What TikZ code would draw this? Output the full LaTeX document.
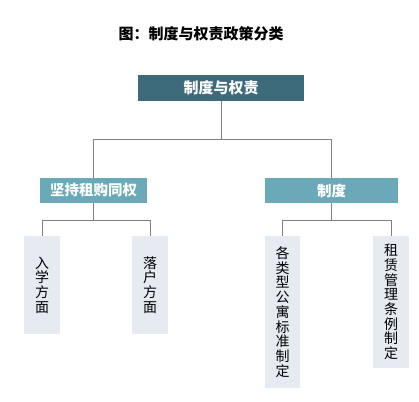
\documentclass[tikz,border=0pt]{standalone}
\usepackage{fontspec}
\setmainfont{Noto Sans CJK SC}
\definecolor{rootc}{HTML}{3E6B7B}
\definecolor{midc}{HTML}{6AAAB8}
\definecolor{leafc}{HTML}{E5EBF1}
\definecolor{linegray}{HTML}{808080}
\begin{document}
\begin{tikzpicture}[x=1pt,y=-1pt,
  conn/.style={draw=linegray, line width=0.9pt},
  rootbox/.style={fill=rootc, text=white, font=\bfseries\fontsize{15}{15}\selectfont, minimum width=166pt, minimum height=26pt, inner sep=0pt},
  midbox/.style={fill=midc, text=white, font=\bfseries\fontsize{14.5}{14.5}\selectfont, minimum height=25pt, inner sep=0pt},
  leafbox/.style={fill=leafc, text=black, font=\fontsize{14}{14.7}\selectfont, align=center, minimum width=36pt, inner sep=0pt},
  titletext/.style={font=\bfseries\fontsize{15}{15}\selectfont, text=black}]
\useasboundingbox (0,0) rectangle (419,401);
\node[titletext] (title) at (201,34) {图：制度与权责政策分类};
\node[rootbox] (root) at (221,88) {制度与权责};
\node[midbox, minimum width=107pt] (L) at (93.5,190.5) {坚持租购同权};
\node[midbox, minimum width=133pt] (R) at (331.5,190.5) {制度};
\node[leafbox, minimum height=98pt] (la) at (42,285) {入\\学\\方\\面};
\node[leafbox, minimum height=98pt] (lb) at (150,285) {落\\户\\方\\面};
\node[leafbox, minimum width=35pt, minimum height=152pt] (lc) at (282.5,312) {各\\类\\型\\公\\寓\\标\\准\\制\\定};
\node[leafbox, minimum height=132pt] (ld) at (391,302) {租\\赁\\管\\理\\条\\例\\制\\定};
\draw[conn] (root.south) -- (root.south |- 0,139) -| (L.north);
\draw[conn] (root.south |- 0,139) -| (R.north);
\draw[conn] (L.south) -- (L.south |- 0,220) -| (la.north);
\draw[conn] (L.south |- 0,220) -| (lb.north);
\draw[conn] (R.south) -- (R.south |- 0,220) -| (lc.north);
\draw[conn] (R.south |- 0,220) -| (ld.north);
\end{tikzpicture}
\end{document}
